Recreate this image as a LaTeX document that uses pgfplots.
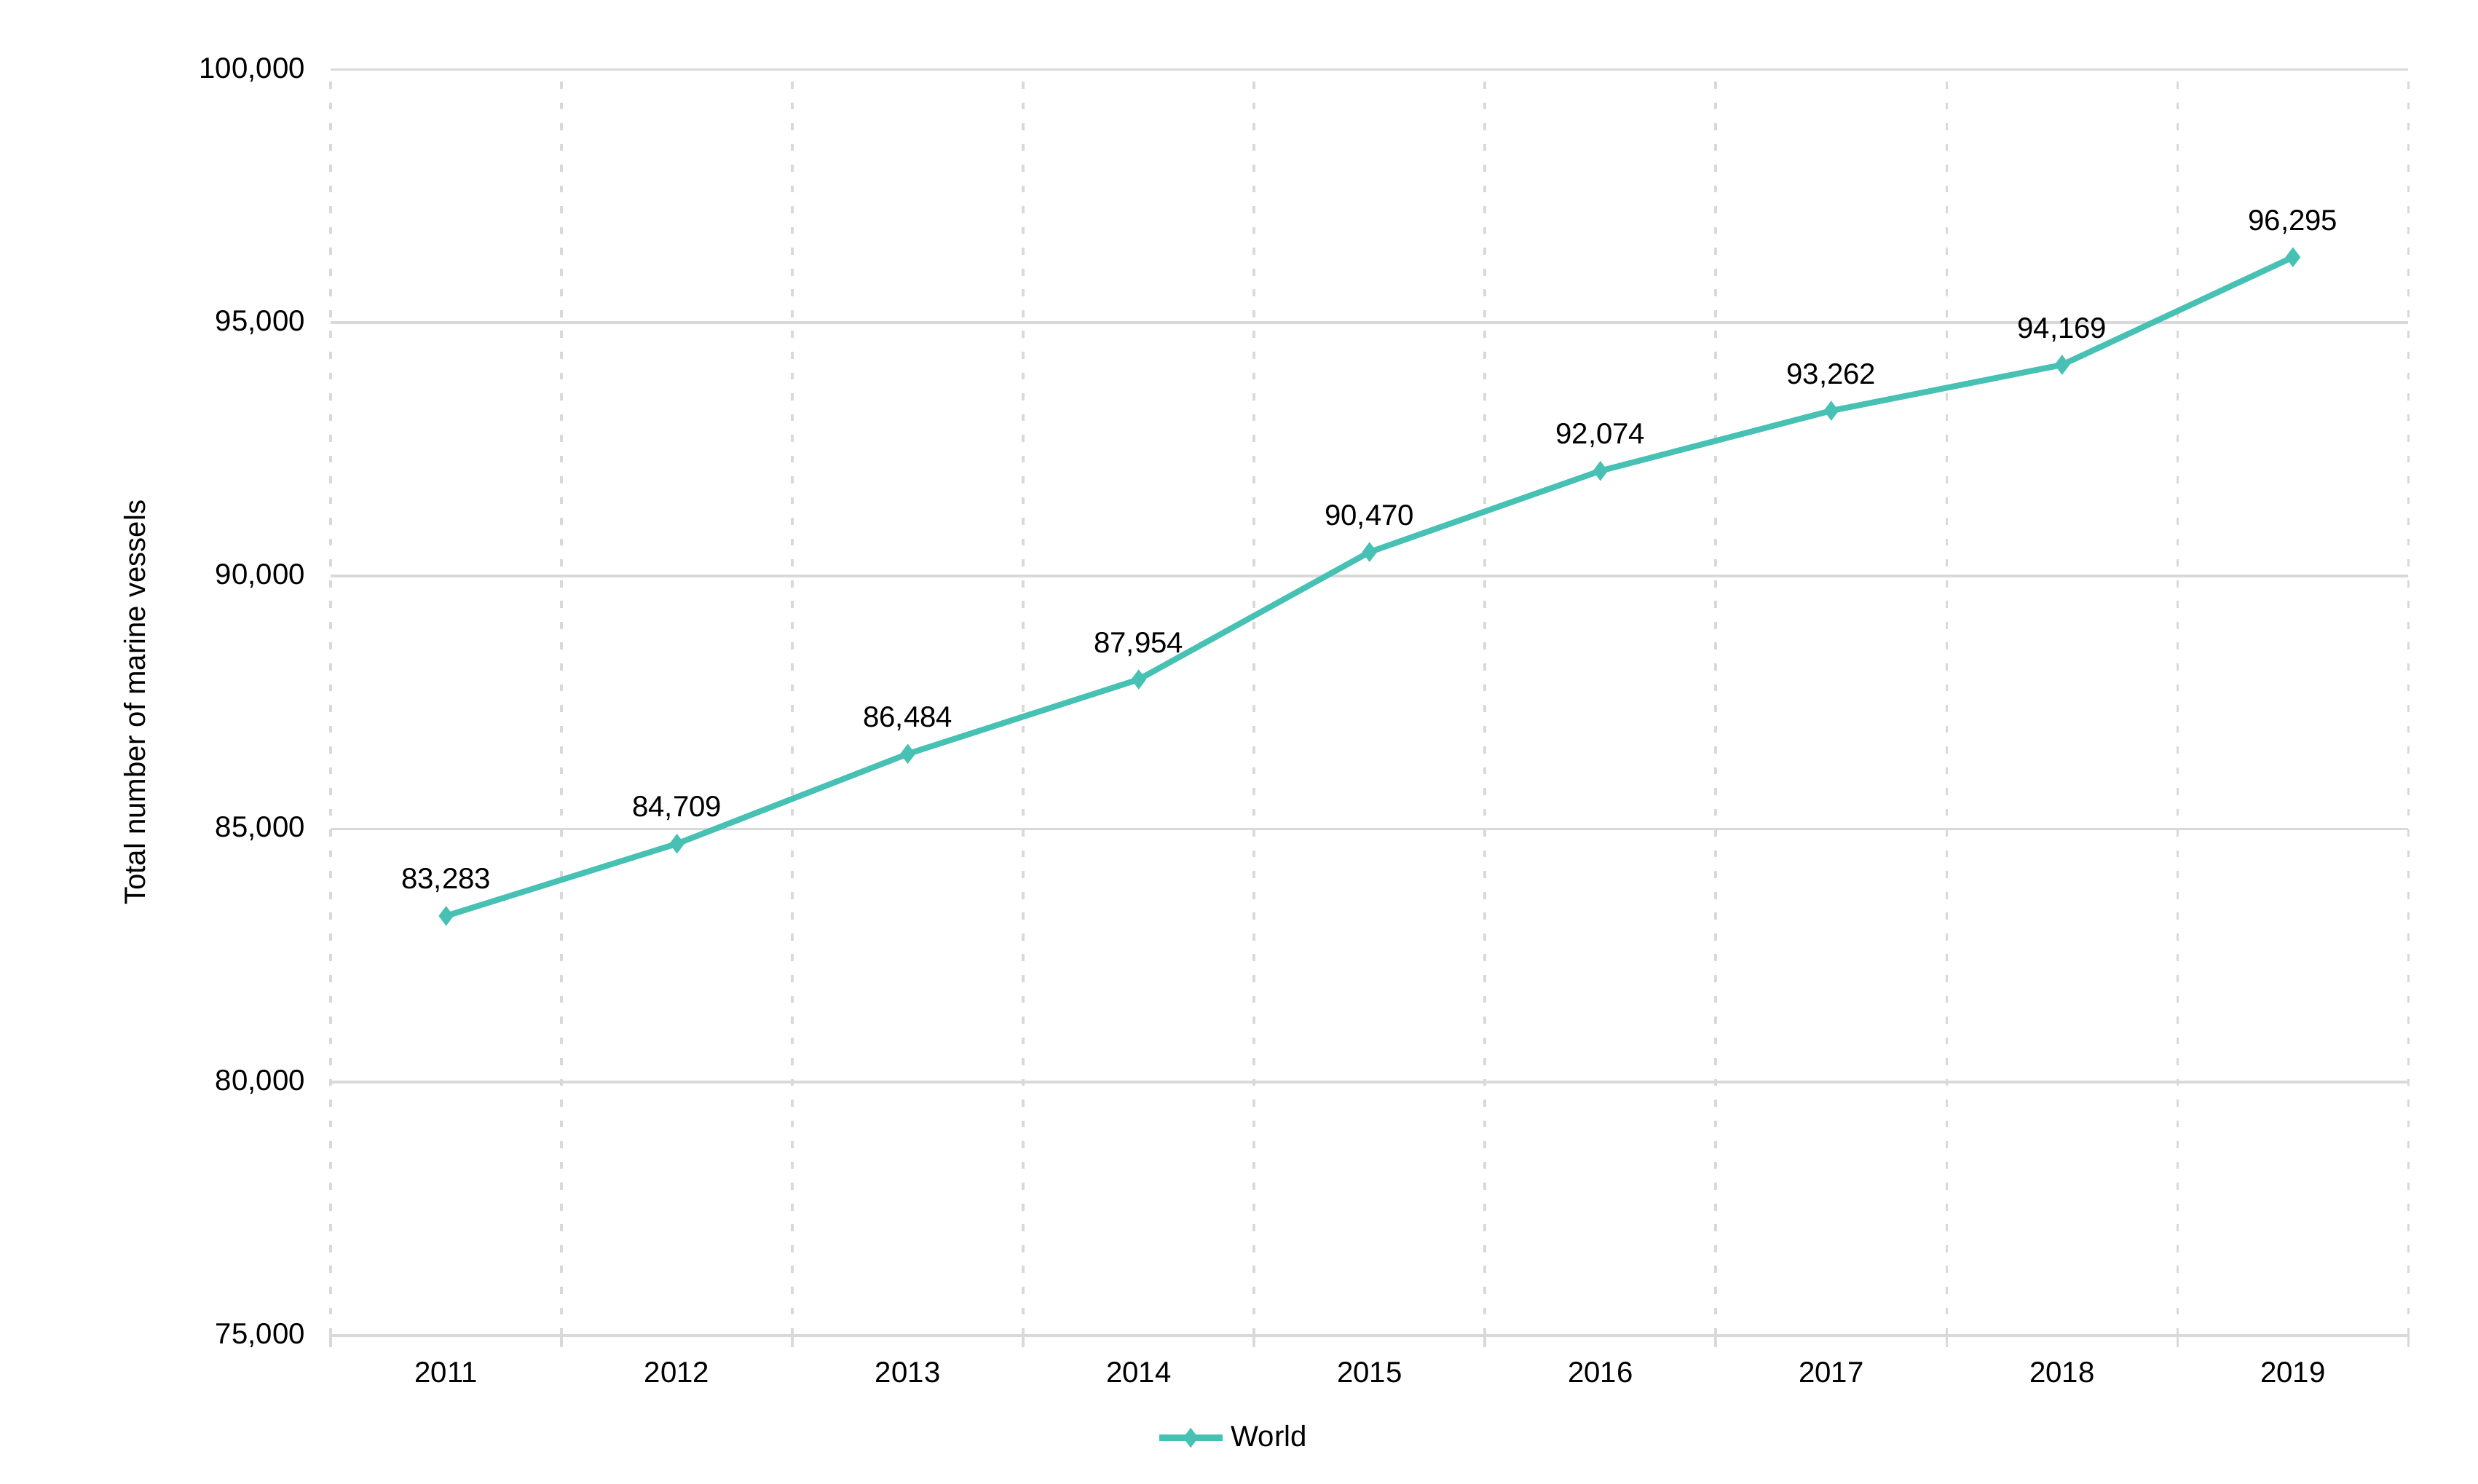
\documentclass[border=0pt]{standalone}
\usepackage{fontspec}
\setmainfont{Liberation Sans}
\usepackage{pgfplots}
\pgfplotsset{compat=1.18}
\definecolor{teal1}{HTML}{47C1B3}
\definecolor{gridc}{HTML}{D9D9D9}
\begin{document}
\begin{tikzpicture}
\begin{axis}[
  name=ax,
  scale only axis,
  width=710pt, height=432.5pt,
  xmin=0.5, xmax=9.5,
  ymin=75000, ymax=100000,
  xtick={1,2,3,4,5,6,7,8,9},
  xticklabels={2011,2012,2013,2014,2015,2016,2017,2018,2019},
  minor xtick={0.5,1.5,2.5,3.5,4.5,5.5,6.5,7.5,8.5,9.5},
  ytick={75000,80000,85000,90000,95000,100000},
  scaled y ticks=false,
  yticklabel={\pgfmathprintnumber[fixed,precision=0,1000 sep={,}]{\tick}},
  /pgf/number format/.cd, 1000 sep={,}, assume math mode=true, /pgfplots/.cd,
  axis line style={draw=none},
  xtick pos=bottom, ytick pos=left,
  tick align=outside,
  major tick length=0pt,
  minor tick length=4pt,
  minor x tick style={draw=gridc, line width=0.9pt},
  ymajorgrids, xminorgrids,
  major grid style={draw=gridc, line width=0.9pt},
  minor grid style={draw=gridc, line width=0.9pt, dash pattern=on 2.4pt off 4.7pt},
  xticklabel style={inner sep=0pt, yshift=-9pt, anchor=north},
  yticklabel style={inner sep=0pt, xshift=-8.6pt, anchor=east},
  ylabel={Total number of marine vessels},
  ylabel style={at={(axis description cs:-0.0944,0.5)}, anchor=center, rotate=0},
  legend style={at={(axis description cs:0.435,-0.081)}, anchor=center, draw=none, fill=none,
    legend cell align=left, inner sep=0pt},
  legend image code/.code={%
    \draw[#1, mark repeat=2, mark phase=2] plot coordinates {(0cm,0cm) (0.38cm,0cm) (0.76cm,0cm)};},
  nodes near coords,
  every node near coord/.append style={anchor=base, yshift=9.2pt, inner sep=0pt, text=black, font=\normalsize},
]
\addplot[color=teal1, line width=2pt, mark=diamond*, mark size=3pt, mark options={fill=teal1, draw=teal1, line width=0.5pt}]
coordinates {
(1,83283) (2,84709) (3,86484) (4,87954) (5,90470) (6,92074) (7,93262) (8,94169) (9,96295)
};
\addlegendentry{World}
\end{axis}
\pgfresetboundingbox
\path[use as bounding box] ([xshift=-113pt,yshift=-50.8pt]ax.south west) rectangle ([xshift=23.8pt,yshift=23.8pt]ax.north east);
\end{tikzpicture}
\end{document}
